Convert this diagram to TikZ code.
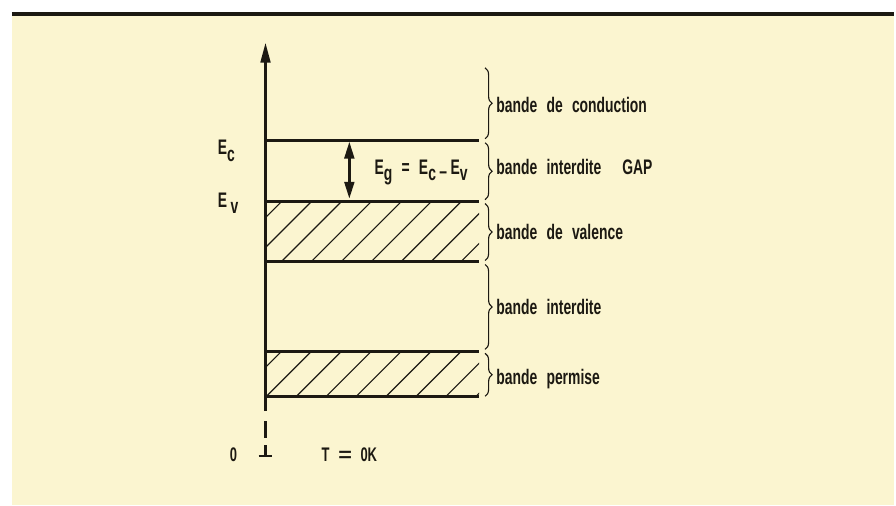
\documentclass[tikz,border=0pt]{standalone}
\usepackage{fontspec}
\newfontfamily\cond{Liberation Sans}[FakeStretch=0.66,WordSpace=2.4]
\usetikzlibrary{arrows.meta,decorations.pathreplacing}
\definecolor{paper}{HTML}{FBF5D0}
\definecolor{ink}{HTML}{1C1912}
\newcommand{\low}[1]{\raisebox{-0.3em}{#1}}

\begin{document}
\begin{tikzpicture}[x=0.025cm,y=-0.025cm,
 lvl/.style={draw=ink,line width=2pt},
 hatch/.style={draw=ink,line width=0.8pt},
 brc/.style={draw=ink,line width=0.8pt,decorate,decoration={brace,amplitude=5pt}},
 lab/.style={anchor=base west,inner sep=0pt,text=ink},
 font=\cond\bfseries\fontsize{15}{18}\selectfont]
 % sheet
 \fill[white] (0,0) rectangle (896,506);
 \fill[paper] (12,15) rectangle (896,506);
 \draw[ink,line width=2.4pt] (12,14) -- (896,14);
 % energy axis
 \coordinate (o) at (266,412);
 \coordinate (top) at (266,43);
 \draw[ink,line width=1.6pt,-{Triangle[length=14pt,width=7pt]}] (o) -- (top);
 \draw[ink,line width=1.6pt] (266,422) -- (266,439) (266,446) -- (266,457);
 \draw[ink,line width=1.6pt] (259,457) -- (273,457);
 % levels
 \foreach \n/\y in {ec/141,ev/202,vb/262,pt/352,pb/397}{
   \coordinate (\n) at (266,\y);
   \coordinate (r\n) at (480,\y);
   \draw[lvl] (\n) -- (r\n);
 }
 % hatching
 \begin{scope}
  \clip (ev) rectangle (rvb);
  \foreach \x in {222,252,...,462} \draw[hatch] (\x,262) -- ++(60,-60);
 \end{scope}
 \begin{scope}
  \clip (pt) rectangle (rpb);
  \foreach \x in {237,267,...,477} \draw[hatch] (\x,397) -- ++(45,-45);
 \end{scope}
 % gap arrow
 \coordinate (gt) at (350,142);
 \coordinate (gb) at (350,199);
 \draw[ink,line width=1.8pt,{Triangle[length=12pt,width=7pt]}-{Triangle[length=12pt,width=7pt]}] (gt) -- (gb);
 % braces
 \foreach \i/\a/\b in {1/68/139,2/143/200,3/204/261,4/265/350,5/354/397}{
   \coordinate (bt\i) at (486,\a);
   \coordinate (bb\i) at (486,\b);
   \draw[brc] (bt\i) -- (bb\i);
 }
 % labels
 \node[lab] (cond) at (497,113) {bande de conduction};
 \node[lab] (gap) at (497,175) {bande interdite\quad GAP};
 \node[lab] (val) at (497,240) {bande de valence};
 \node[lab] (intd) at (497,315) {bande interdite};
 \node[lab] (perm) at (497,385) {bande permise};
 \node[lab] (eg) at (375,175) {E\low{g} = E\low{c}\,\raisebox{-0.2em}{–}\,E\low{v}};
 \node[lab] (ecl) at (218,155) {E\low{c}};
 \node[lab] (evl) at (218,208) {E\,\low{v}};
 \node[lab,font=\cond\bfseries\fontsize{14}{16}\selectfont] (zero) at (230,462) {0};
 \node[lab,font=\cond\bfseries\fontsize{14}{16}\selectfont] (temp) at (322,462) {T \scalebox{1.8}[1]{=} 0K};
\end{tikzpicture}
\end{document}
